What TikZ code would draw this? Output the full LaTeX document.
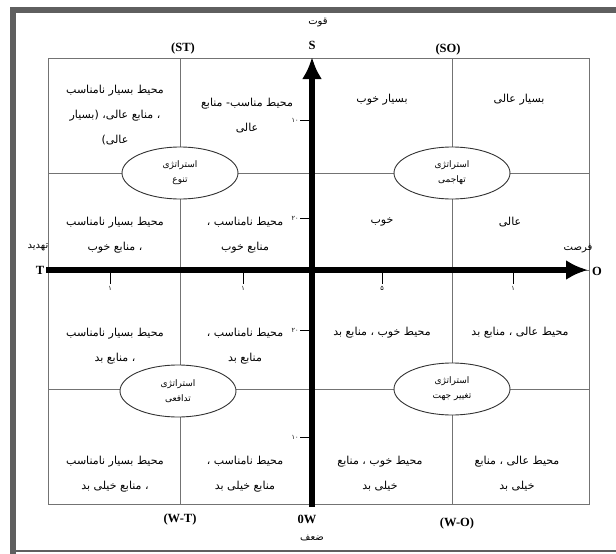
\documentclass[tikz,border=0pt]{standalone}
\usepackage{fontspec}
\setmainfont{Liberation Serif}
\newfontfamily\farsi[Script=Arabic]{DejaVu Sans}
\TeXXeTstate=1
\usetikzlibrary{arrows.meta, shapes.geometric}
\definecolor{framegray}{RGB}{95,95,95}
\newcommand{\fa}[1]{{\farsi\beginR #1\endR}}
\tikzset{gridline/.style={draw=black!55, line width=0.9pt}}
\tikzset{axis/.style={line width=5.5pt, -{Latex[length=22pt, width=20pt]}}}
\tikzset{cell/.style={align=center, inner sep=0pt, font=\fontsize{11}{25}\selectfont}}
\tikzset{strat/.style={ellipse, draw=black!80, line width=0.9pt, fill=white, minimum width=116pt, minimum height=52pt, align=center, inner sep=0pt, font=\fontsize{9}{15}\selectfont}}
\tikzset{latin/.style={inner sep=0pt, font=\fontsize{12.5}{12.5}\selectfont\bfseries}}
\tikzset{farsilabel/.style={inner sep=0pt, font=\fontsize{10}{10}\selectfont}}
\tikzset{ticklabel/.style={inner sep=0pt, font=\fontsize{6.5}{6.5}\selectfont}}

\begin{document}
\begin{tikzpicture}[x=1pt, y=-1pt]
    \useasboundingbox (0,0) rectangle (616,554);
    % frame
    \draw[framegray, line width=6pt] (13,554) -- (13,10) -- (616,10);
    \draw[framegray, line width=2pt] (13,551) -- (616,551);
    % grid
    \draw[gridline] (48,58) rectangle (589,504);
    \draw[gridline] (180,58) -- (180,504);
    \draw[gridline] (452,58) -- (452,504);
    \draw[gridline] (48,173) -- (589,173);
    \draw[gridline] (48,389) -- (589,389);
    \draw[gridline] (48,270) -- (589,270);

    % cells, row 1
    \node[cell] (st1) at (115,115) {\fa{محیط بسیار نامناسب}\\\fa{، منابع عالی، (بسیار}\\\fa{عالی)}};
    \node[cell] (st2) at (247,116) {\fa{محیط مناسب- منابع}\\\fa{عالی}};
    \node[cell] (so1) at (382,100) {\fa{بسیار خوب}};
    \node[cell] (so2) at (519,100) {\fa{بسیار عالی}};
    % row 2
    \node[cell] (st3) at (115,235) {\fa{محیط بسیار نامناسب}\\\fa{، منابع خوب}};
    \node[cell] (st4) at (245,235) {\fa{محیط نامناسب ،}\\\fa{منابع خوب}};
    \node[cell] (so3) at (382,222) {\fa{خوب}};
    \node[cell] (so4) at (510,222) {\fa{عالی}};
    % row 3
    \node[cell] (wt1) at (115,346) {\fa{محیط بسیار نامناسب}\\\fa{، منابع بد}};
    \node[cell] (wt2) at (245,346) {\fa{محیط نامناسب ،}\\\fa{منابع بد}};
    \node[cell] (wo1) at (382,333) {\fa{محیط خوب ، منابع بد}};
    \node[cell] (wo2) at (520,333) {\fa{محیط عالی ، منابع بد}};
    % row 4
    \node[cell] (wt3) at (115,474) {\fa{محیط بسیار نامناسب}\\\fa{، منابع خیلی بد}};
    \node[cell] (wt4) at (245,474) {\fa{محیط نامناسب ،}\\\fa{منابع خیلی بد}};
    \node[cell] (wo3) at (380,474) {\fa{محیط خوب ، منابع}\\\fa{خیلی بد}};
    \node[cell] (wo4) at (517,474) {\fa{محیط عالی ، منابع}\\\fa{خیلی بد}};

    % axes
    \coordinate (Sbot) at (312,507);
    \coordinate (Stop) at (312,57);
    \coordinate (Tend) at (46,270);
    \coordinate (Oend) at (588,270);
    \draw[axis] (Tend) -- (Oend);
    \draw[axis] (Sbot) -- (Stop);

    % ticks
    \draw[line width=0.6pt] (110,270) -- (110,284) node[ticklabel, below=2pt] {\fa{۱}};
    \draw[line width=0.6pt] (243,270) -- (243,284) node[ticklabel, below=2pt] {\fa{۱}};
    \draw[line width=0.6pt] (382,270) -- (382,284) node[ticklabel, below=2pt] {\fa{۵}};
    \draw[line width=0.6pt] (513,270) -- (513,284) node[ticklabel, below=2pt] {\fa{۱}};
    \draw[line width=0.6pt] (300,120) -- (309,120) node[ticklabel, pos=0, left=1pt] {\fa{۱۰}};
    \draw[line width=0.6pt] (300,218) -- (309,218) node[ticklabel, pos=0, left=1pt] {\fa{۲۰}};
    \draw[line width=0.6pt] (300,330) -- (309,330) node[ticklabel, pos=0, left=1pt] {\fa{۲۰}};
    \draw[line width=0.6pt] (300,437) -- (309,437) node[ticklabel, pos=0, left=1pt] {\fa{۱۰}};

    % strategies
    \node[strat] (tanavo) at (180,173) {\fa{استراتژی}\\\fa{تنوع}};
    \node[strat] (tahajomi) at (452,173) {\fa{استراتژی}\\\fa{تهاجمی}};
    \node[strat] (tadafoi) at (178,391) {\fa{استراتژی}\\\fa{تدافعی}};
    \node[strat] (taghir) at (452,389) {\fa{استراتژی}\\\fa{تغییر جهت}};

    % axis labels
    \node[farsilabel] (ghovat) at (318,23) {\fa{قوت}};
    \node[latin] (S) at (312,45) {S};
    \node[latin] (ST) at (183,48) {(ST)};
    \node[latin] (SO) at (448,49) {(SO)};
    \node[farsilabel] (tahdid) at (38,247) {\fa{تهدید}};
    \node[latin] (T) at (40,270) {T};
    \node[farsilabel] (forsat) at (578,249) {\fa{فرصت}};
    \node[latin] (O) at (597,271) {O};
    \node[latin] (WT) at (180,519) {(W-T)};
    \node[latin] (W) at (307,519) {0W};
    \node[farsilabel] (zaf) at (312,538) {\fa{ضعف}};
    \node[latin] (WO) at (457,523) {(W-O)};
\end{tikzpicture}
\end{document}
